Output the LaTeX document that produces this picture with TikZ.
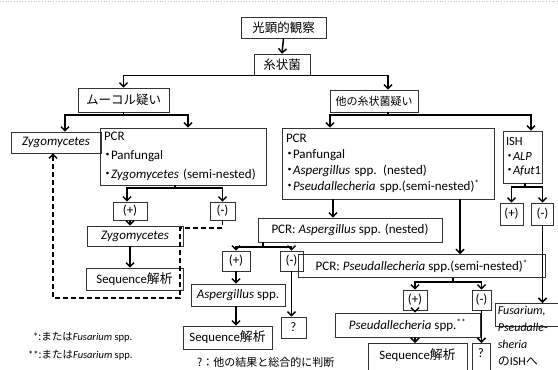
\documentclass[tikz,border=0pt]{standalone}
\usepackage{fontspec}
\setmainfont{Carlito}
\newfontfamily\jp{Noto Sans CJK JP}
\usetikzlibrary{arrows.meta}
\newcommand\bul{{\jp\makebox[7pt][c]{・}}}

\begin{document}
\begin{tikzpicture}[x=1pt,y=-1pt,
  box/.style={draw=black!80, line width=0.6pt, inner sep=2pt, font=\fontsize{13}{15}\selectfont},
  jbox/.style={box, font=\jp\fontsize{12.5}{14}\selectfont},
  listbox/.style={box, align=left, inner sep=4pt},
  link/.style={line width=1.5pt},
  conn/.style={link, -{Straight Barb[length=4pt,width=8pt]}},
  back/.style={link, dash pattern=on 5pt off 3pt, -{Straight Barb[length=4pt,width=8pt]}},
  note/.style={anchor=west, inner sep=0pt, font=\fontsize{10.5}{12}\selectfont}]
  \useasboundingbox (0,0) rectangle (558,370);
  \draw[gray!50, dotted, line width=0.8pt] (0,1) -- (558,1);

  % Top
  \node[jbox, minimum width=85, minimum height=21] (kenbi) at (283.5,27.5) {光顕的観察};
  \node[jbox, minimum width=56, minimum height=21] (shijo) at (282,64.5) {糸状菌};
  \node[jbox, minimum width=91, minimum height=24] (mucor) at (123.5,100) {ムーコル疑い};
  \node[jbox, minimum width=88, minimum height=22, font=\jp\fontsize{11}{13}\selectfont] (other) at (374,101) {他の糸状菌疑い};

  \draw[conn] (kenbi.south) -- (shijo.north);
  \draw[conn] (shijo.south) -| (mucor.north);
  \draw[conn] (shijo.south) -| ([xshift=14pt]other.north);

  % Mucor branch
  \node[box, minimum width=90, minimum height=21] (zygoA) at (56,142.5) {\textit{Zygomycetes}};
  \node[listbox, text width=158, minimum height=57, font=\fontsize{13}{19}\selectfont] (pcrL) at (183,156.5)
    {PCR\\\bul Panfungal\\\bul\textit{Zygomycetes} (semi-nested)};
  \coordinate (jM) at (123.5,115);
  \draw[link] (mucor.south) -- (jM);
  \draw[conn] (jM) -| ([xshift=9pt]zygoA.north);
  \draw[conn] (jM) -| ([xshift=5pt]pcrL.north);

  \node[box, minimum width=34, minimum height=18] (posL) at (130,211) {(+)};
  \node[box, minimum width=25, minimum height=18] (negL) at (222.5,211) {(-)};
  \coordinate (jL) at (175,188);
  \draw[link] (jL |- pcrL.south) -- (jL);
  \draw[conn] (jL) -| ([xshift=-3pt]posL.north);
  \draw[conn] (jL) -| (negL.north);

  \node[box, minimum width=96, minimum height=20] (zygoB) at (135,236) {\textit{Zygomycetes}};
  \node[box, minimum width=97, minimum height=22, font=\fontsize{12.8}{14}\selectfont] (seqL) at (134.5,279) {Sequence{\jp 解析}};
  \draw[conn] (posL.south) -- (posL.south |- zygoB.north);
  \draw[conn] (posL.south |- zygoB.south) -- (posL.south |- seqL.north);

  % back to Zygomycetes
  \coordinate (dA) at (222.5,228);
  \coordinate (dB) at (180,298);
  \draw[back] (negL.south) -- (dA) -| (dB) -| ([xshift=-3pt]zygoA.south);

  % Other fungi branch
  \node[listbox, text width=204, minimum height=71, font=\fontsize{13}{16}\selectfont] (pcrR) at (388,163.5)
    {PCR\\\bul Panfungal\\\bul\textit{Aspergillus} spp. (nested)\\\bul\textit{Pseudallecheria} spp.(semi-nested)\textsuperscript{*}};
  \node[listbox, text width=33, minimum height=52, inner sep=3pt, font=\fontsize{12.5}{14.5}\selectfont] (ish) at (522.5,157)
    {ISH\\ \bul\textit{ALP}\\\bul\textit{Afut}1};
  \coordinate (jO) at (388,115);
  \draw[link] ([xshift=14pt]other.south) -- (jO);
  \draw[conn] (jO) -| ([xshift=-58pt]pcrR.north);
  \draw[conn] (jO) -| ([xshift=8.5pt]ish.north);

  % ISH
  \node[box, minimum width=23, minimum height=22] (posI) at (511.5,214) {(+)};
  \node[box, minimum width=22, minimum height=22] (negI) at (542.5,214) {(-)};
  \coordinate (jI) at (525,187);
  \draw[link] (jI |- ish.south) -- (jI);
  \draw[conn] (jI) -| (posI.north);
  \draw[conn] (jI) -| (negI.north);

  % Aspergillus
  \node[box, minimum width=184, minimum height=24] (aspPCR) at (350,230) {PCR: \textit{Aspergillus} spp. (nested)};
  \draw[conn] ([xshift=-55pt]pcrR.south) -- ([xshift=-55pt]pcrR.south |- aspPCR.north);

  \node[box, minimum width=28, minimum height=20] (posA) at (236,261) {(+)};
  \node[box, minimum width=23, minimum height=20] (negA) at (291.5,261) {(-)};
  \coordinate (jA) at (263,247);
  \draw[link] (jA |- aspPCR.south) -- (jA);
  \draw[conn] (jA) -| (posA.north);
  \draw[conn] (jA) -| (negA.north);

  \node[box, minimum width=94, minimum height=22] (aspSpp) at (238,295) {\textit{Aspergillus} spp.};
  \node[box, minimum width=89, minimum height=23, font=\fontsize{12.8}{14}\selectfont] (seqA) at (227.5,337.5) {Sequence{\jp 解析}};
  \node[box, minimum width=25, minimum height=21] (qA) at (293.5,327.5) {?};
  \draw[conn] (posA.south) -- (posA.south |- aspSpp.north);
  \draw[conn] (posA.south |- aspSpp.south) -- (posA.south |- seqA.north);
  \draw[conn] (negA.south) -- (negA.south |- qA.north);

  % Pseudallecheria
  \node[box, minimum width=247, minimum height=22, anchor=west, inner sep=5pt] (psePCR) at (298,266)
    {PCR: \textit{Pseudallecheria} spp.(semi-nested)\textsuperscript{*}};
  \draw[conn] ([xshift=72pt]pcrR.south) -- ([xshift=72pt]pcrR.south |- psePCR.north);

  \node[box, minimum width=24, minimum height=20] (posP) at (415,300) {(+)};
  \node[box, minimum width=19, minimum height=20] (negP) at (481.5,300) {(-)};
  \coordinate (jP) at (453,282);
  \draw[link] (jP |- psePCR.south) -- (jP);
  \draw[conn] (jP) -| (posP.north);
  \draw[conn] (jP) -| (negP.north);

  \node[box, minimum width=145, minimum height=24] (pseSpp) at (407.5,325) {\textit{Pseudallecheria} spp.\textsuperscript{**}};
  \node[box, minimum width=99, anchor=north, inner ysep=5pt, font=\fontsize{12.8}{14}\selectfont, text depth=14pt] (seqP) at (417.5,343) {Sequence{\jp 解析}};
  \node[box, minimum width=18, anchor=north, inner ysep=5pt, text depth=14pt] (qP) at (481,343) {?};
  \draw[conn] (posP.south) -- (posP.south |- pseSpp.north);
  \draw[conn] (posP.south |- pseSpp.south) -- (posP.south |- seqP.north);
  \draw[conn] (negP.south) -- (negP.south |- qP.north);

  % Fusarium
  \node[box, anchor=north west, text width=72, align=left, inner sep=2.5pt, text depth=10pt, font=\fontsize{12}{17.3}\selectfont] (fus) at (495,303)
    {\textit{Fusarium,}\\\mbox{\textit{Pseudalle}-}\\\textit{sheria}\\{\jp の}ISH{\jp へ}};
  \draw[conn] (negI.south) -- (negI.south |- fus.north);

  % Notes
  \node[note] (noteA) at (33,337) {*{\jp :または}\textit{Fusarium} spp.};
  \node[note] (noteB) at (28,355) {**{\jp :または}\textit{Fusarium} spp.};
  \node[note, font=\jp\fontsize{11}{12}\selectfont] (noteC) at (197,362) {?：他の結果と総合的に判断};
\end{tikzpicture}
\end{document}
